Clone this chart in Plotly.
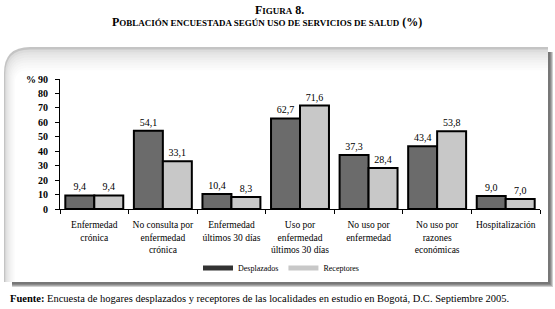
import plotly.graph_objects as go

categories = [
    "Enfermedad<br>crónica",
    "No consulta por<br>enfermedad<br>crónica",
    "Enfermedad<br>últimos 30 días",
    "Uso por<br>enfermedad<br>últimos 30 días",
    "No uso por<br>enfermedad",
    "No uso por<br>razones<br>económicas",
    "Hospitalización",
]
desplazados = [9.4, 54.1, 10.4, 62.7, 37.3, 43.4, 9.0]
receptores = [9.4, 33.1, 8.3, 71.6, 28.4, 53.8, 7.0]
series_names = ["Desplazados", "Receptores"]
y_ticks = [0, 10, 20, 30, 40, 50, 60, 70, 80, 90]

W, H = 555, 309
L, R, T, B = 60, 15, 79, 100
PW = W - L - R
PH = H - T - B
FONT = "Liberation Serif, Times New Roman, DejaVu Serif, serif"


def px(x):
    return (x - L) / PW


def py(y):
    return (H - B - y) / PH


def fmt(v):
    return f"{v:.1f}".replace(".", ",")


fig = go.Figure()
fig.add_trace(go.Bar(
    x=categories, y=desplazados, name=series_names[0], showlegend=False,
    marker=dict(color="#6b6b6b", line=dict(color="black", width=2)),
    text=[fmt(v) for v in desplazados], textposition="outside",
    textfont=dict(family=FONT, size=10, color="black"), cliponaxis=False,
))
fig.add_trace(go.Bar(
    x=categories, y=receptores, name=series_names[1], showlegend=False,
    marker=dict(color="#c8c8c8", line=dict(color="black", width=2)),
    text=[fmt(v) for v in receptores], textposition="outside",
    textfont=dict(family=FONT, size=10, color="black"), cliponaxis=False,
))
# legend entries
fig.add_trace(go.Scatter(x=[None], y=[None], mode="lines", name=series_names[0],
                         line=dict(color="#333333", width=5)))
fig.add_trace(go.Scatter(x=[None], y=[None], mode="lines", name=series_names[1],
                         line=dict(color="#c8c8c8", width=5)))

shapes = []
# shadow
for i, c in enumerate(["#d0d0d0", "#a8a8a8", "#8a8a8a", "#777777"]):
    d = 4 - i
    shapes.append(dict(type="rect", xref="paper", yref="paper", layer="below",
                       x0=px(12), x1=px(548 + d + 1), y0=py(282 + d + 1), y1=py(52),
                       fillcolor=c, line=dict(width=0)))


def panel(x0, y0, x1, y1, r):
    return (f"M {px(x0)},{py(y1)} L {px(x0)},{py(y0 + r)} "
            f"Q {px(x0)},{py(y0)} {px(x0 + r)},{py(y0)} "
            f"L {px(x1)},{py(y0)} L {px(x1)},{py(y1)} Z")


grads = ["#c4c4c4", "#dcdcdc", "#e4e4e4", "#e9e9e9", "#eeeeee", "#f2f2f2",
         "#f6f6f6", "#f9f9f9", "#fcfcfc", "#ffffff"]
for i, c in enumerate(grads):
    shapes.append(dict(type="path", xref="paper", yref="paper", layer="below",
                       path=panel(4 + i * 1.2, 47 + i * 2.6, 548, 282, max(26 - i * 1.5, 8)),
                       fillcolor=c, line=dict(width=0)))

fig.update_layout(
    width=W, height=H,
    margin=dict(l=L, r=R, t=T, b=B),
    paper_bgcolor="white", plot_bgcolor="rgba(0,0,0,0)",
    barmode="group", bargap=0.155, bargroupgap=0,
    font=dict(family=FONT, size=10, color="black"),
    shapes=shapes,
    showlegend=True,
    legend=dict(orientation="h", x=px(281), xanchor="center", y=py(268), yanchor="middle",
                font=dict(family=FONT, size=8, color="black"), itemwidth=30,
                bgcolor="rgba(0,0,0,0)", traceorder="normal"),
    xaxis=dict(type="category", range=[-0.5, 6.5], showline=True, linecolor="black",
               linewidth=1, ticks="outside", tickson="boundaries", ticklen=4,
               tickcolor="black", tickfont=dict(family=FONT, size=9.5), showgrid=False,
               zeroline=False, fixedrange=True, tickangle=0, ticklabelstandoff=7),
    yaxis=dict(range=[0, 90], tickvals=y_ticks, showline=True, linecolor="black",
               linewidth=1, ticks="outside", ticklen=4, tickcolor="black",
               tickfont=dict(family=FONT, size=10, weight="bold"), showgrid=False,
               zeroline=False, ticklabelstandoff=5),
    annotations=[
        dict(xref="paper", yref="paper", x=px(279), y=py(10), xanchor="center", yanchor="middle",
             showarrow=False, font=dict(family=FONT, size=12, color="black", weight="bold"),
             text='F<span style="font-size:9px">IGURA</span> 8.'),
        dict(xref="paper", yref="paper", x=px(267), y=py(22), xanchor="center", yanchor="middle",
             showarrow=False, font=dict(family=FONT, size=12, color="black", weight="bold"),
             text='P<span style="font-size:9px">OBLACIÓN ENCUESTADA SEGÚN USO DE SERVICIOS DE SALUD</span> (%)'),
        dict(xref="paper", yref="paper", x=px(24), y=py(79), xanchor="left", yanchor="middle",
             showarrow=False, font=dict(family=FONT, size=10, color="black", weight="bold"),
             text="%"),
        dict(xref="paper", yref="paper", x=px(8), y=py(298), xanchor="left", yanchor="middle",
             showarrow=False, font=dict(family=FONT, size=10.5, color="black"),
             text="<b>Fuente:</b> Encuesta de hogares desplazados y receptores de las localidades en estudio en Bogotá, D.C. Septiembre 2005."),
    ],
)

fig.write_html("out.html", config={"displayModeBar": False},
               post_script="document.body.style.margin='0';document.body.style.padding='0';")
